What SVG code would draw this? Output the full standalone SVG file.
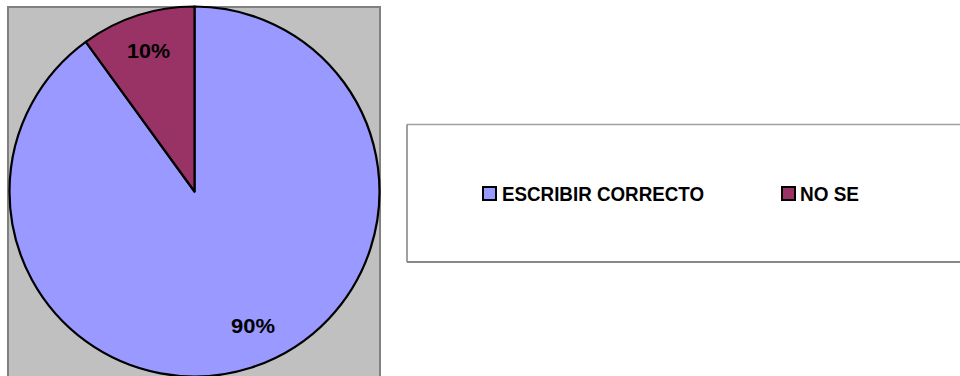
<svg xmlns="http://www.w3.org/2000/svg" width="960" height="376" viewBox="0 0 960 376">
<style>
.lbl{font-family:"Liberation Sans",Arial,sans-serif;font-weight:bold;font-size:20.5px;fill:#000}
.sl{stroke:#000;stroke-width:2.2;stroke-linejoin:round}
</style>
<rect width="960" height="376" fill="#fff"/>
<g id="plot-area">
<rect x="8" y="7" width="372" height="372" fill="#C0C0C0" stroke="#808080" stroke-width="2"/>
</g>
<g id="slice-escribir">
<path class="sl" d="M194.5,191.5 L194.5,6.5 A185,185 0 1 1 85.8,41.8 Z" fill="#9999FF"/>
<text class="lbl" x="231" y="333" textLength="44" lengthAdjust="spacingAndGlyphs">90%</text>
</g>
<g id="slice-nose">
<path class="sl" d="M194.5,191.5 L85.8,41.8 A185,185 0 0 1 194.5,6.5 Z" fill="#993366"/>
<text class="lbl" x="127" y="57.5" textLength="43" lengthAdjust="spacingAndGlyphs">10%</text>
</g>
<g id="legend">
<rect x="407" y="124.5" width="560" height="137.5" fill="#fff" stroke="none"/>
<line x1="407" y1="124.5" x2="960" y2="124.5" stroke="#A0A0A0" stroke-width="1.5"/>
<line x1="407" y1="262" x2="960" y2="262" stroke="#606060" stroke-width="1.5"/>
<line x1="407" y1="124.5" x2="407" y2="262" stroke="#808080" stroke-width="1.5"/>
<rect x="483" y="187" width="13" height="13" fill="#9999FF" stroke="#000" stroke-width="2"/>
<text class="lbl" x="502" y="201" textLength="202" lengthAdjust="spacingAndGlyphs">ESCRIBIR CORRECTO</text>
<rect x="782" y="187" width="13" height="13" fill="#993366" stroke="#000" stroke-width="2"/>
<text class="lbl" x="800" y="201" textLength="59" lengthAdjust="spacingAndGlyphs">NO SE</text>
</g>
</svg>
